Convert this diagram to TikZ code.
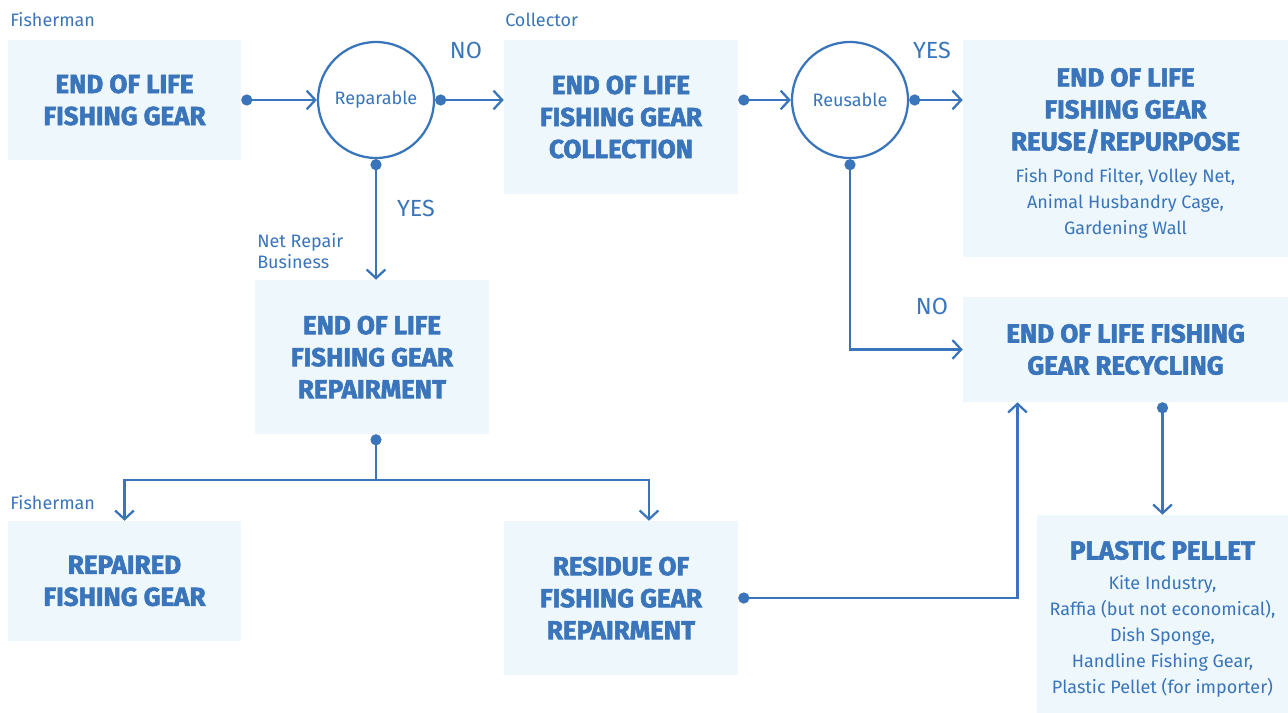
\documentclass[tikz,border=0pt]{standalone}
\usepackage{fontspec}
\setmainfont{Fira Sans}[BoldFeatures={FakeBold=2.2}]
\usetikzlibrary{arrows.meta,positioning}
\definecolor{flowblue}{HTML}{3A75BB}
\definecolor{boxfill}{HTML}{EEF7FB}

\begin{document}
\begin{tikzpicture}[x=0.75pt,y=-0.75pt,
  every node/.style={text=flowblue},
  headbox/.style n args={2}{fill=boxfill, align=center, inner sep=0pt,
    minimum width=#1, minimum height=#2,
    font=\bfseries\fontsize{19.5}{24}\selectfont},
  panel/.style n args={2}{fill=boxfill, inner sep=0pt,
    minimum width=#1, minimum height=#2},
  headtext/.style={align=center, inner sep=0pt,
    font=\bfseries\fontsize{19.5}{24}\selectfont},
  bodytext/.style={align=center, inner sep=0pt,
    font=\fontsize{13.5}{19.5}\selectfont},
  choice/.style={circle, draw=flowblue, line width=1.7pt, fill=white,
    minimum size=87pt, inner sep=0pt, font=\fontsize{13.5}{15}\selectfont},
  tag/.style={anchor=west, align=left, inner sep=0pt,
    font=\fontsize{13.5}{15.5}\selectfont},
  answer/.style={inner sep=0pt, font=\fontsize{17.5}{20}\selectfont},
  flow/.style={draw=flowblue, line width=1.7pt,
    -{Straight Barb[length=6.5pt,width=14pt]}},
  dotflow/.style={flow,
    {Circle[length=8.3pt]}-{Straight Barb[length=6.5pt,width=14pt]}}]
\useasboundingbox (0,0) rectangle (1288,713);

% boxes
\node[headbox={174.75pt}{90pt}] (gear) at (124.5,100)
  {END OF LIFE\\FISHING GEAR};
\node[headbox={175.5pt}{115.5pt}] (collect) at (621,117)
  {END OF LIFE\\FISHING GEAR\\COLLECTION};
\node[panel={243.75pt}{162.75pt}] (reuse) at (1125.5,148.5) {};
\node[headtext, below=21pt of reuse.north] (reusehead)
  {END OF LIFE\\FISHING GEAR\\REUSE/REPURPOSE};
\node[bodytext, below=11.2pt of reusehead] (reusebody)
  {Fish Pond Filter, Volley Net,\\Animal Husbandry Cage,\\Gardening Wall};
\node[headbox={175.5pt}{115.5pt}] (repair) at (372,357)
  {END OF LIFE\\FISHING GEAR\\REPAIRMENT};
\node[headbox={243.75pt}{78.75pt}] (recycle) at (1125.5,349.5)
  {END OF LIFE FISHING\\GEAR RECYCLING};
\node[headbox={174.75pt}{90pt}] (repaired) at (124.5,581)
  {REPAIRED\\FISHING GEAR};
\node[headbox={175.5pt}{115.5pt}] (residue) at (621,598)
  {RESIDUE OF\\FISHING GEAR\\REPAIRMENT};
\node[panel={188.25pt}{148.5pt}] (pellet) at (1162.5,614) {};
\node[headtext, below=19.5pt of pellet.north] (pellethead) {PLASTIC PELLET};
\node[bodytext, below=10.9pt of pellethead] (pelletbody)
  {Kite Industry,\\Raffia (but not economical),\\Dish Sponge,\\
   Handline Fishing Gear,\\Plastic Pellet (for importer)};

% decisions
\node[choice] (reparable) at (376,100) {Reparable};
\node[choice] (reusable) at (850,100) {Reusable};

% actors
\node[tag] (fisher1) at (10,20) {Fisherman};
\node[tag] (collector) at (505,20) {Collector};
\node[tag] (netrepair) at (257,251) {Net Repair\\Business};
\node[tag] (fisher2) at (10,503) {Fisherman};

% connectors
\draw[dotflow] (gear.east |- reparable.west) -- (reparable.west);
\draw[dotflow] (reparable.east) -- (collect.west |- reparable.east);
\draw[dotflow] (collect.east |- reusable.west) -- (reusable.west);
\draw[dotflow] (reusable.east) -- (reuse.west |- reusable.east);
\draw[dotflow] (reparable.south) -- (reparable.south |- repair.north);
\draw[dotflow] (reusable.south) |- (recycle.west);
\draw[dotflow] (repair.south -| reparable.south) -- ++(0,46) coordinate (split)
  -| (repaired.north);
\draw[flow] (split) -| ([xshift=21pt]residue.north);
\draw[dotflow] (residue.east) -| ([xshift=-81pt]recycle.south);
\draw[dotflow] (recycle.south -| pellet.north) -- (pellet.north);

% answers
\node[answer] (no1) at (466,50) {NO};
\node[answer] (yes1) at (932,50) {YES};
\node[answer] (yes2) at (416,208) {YES};
\node[answer] (no2) at (932,306) {NO};
\end{tikzpicture}
\end{document}
